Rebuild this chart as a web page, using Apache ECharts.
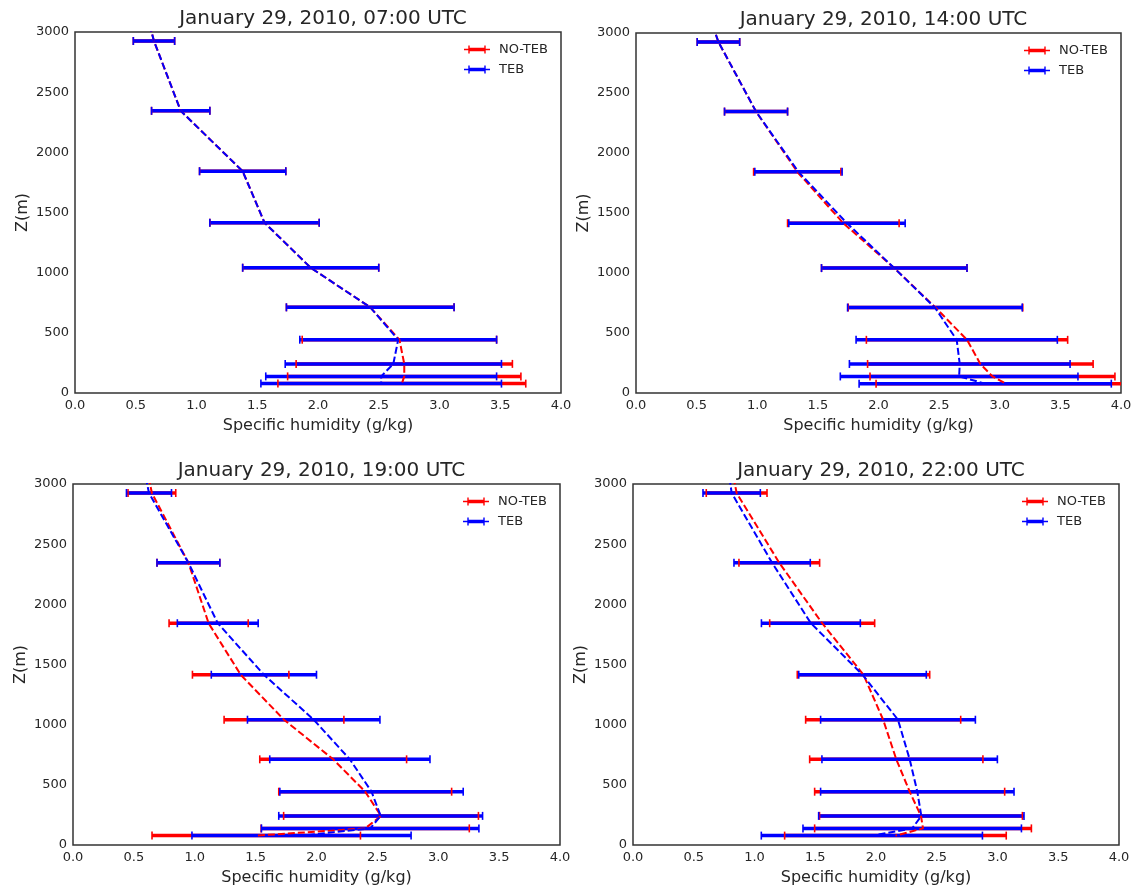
<!DOCTYPE html>
<html>
<head>
<meta charset="utf-8">
<script src="https://cdn.jsdelivr.net/npm/echarts@6/dist/echarts.min.js"></script>
<style>
  html, body { margin: 0; padding: 0; background: #fff; }
  #main { width: 1136px; height: 890px; }
</style>
</head>
<body>
<div id="main"></div>
<script>
// model levels (m); the last one sits above the plot top, only the line reaches toward it
var levels = [78, 138, 242, 443, 712, 1041, 1415, 1843, 2345, 2925, 3300];

var titles = [
  'January 29, 2010, 07:00 UTC',
  'January 29, 2010, 14:00 UTC',
  'January 29, 2010, 19:00 UTC',
  'January 29, 2010, 22:00 UTC'
];

// 07:00 UTC
var q07NoTeb  = [2.69, 2.71, 2.71, 2.67, 2.43, 1.94, 1.56, 1.38, 0.87, 0.65, 0.55];
var sd07NoTeb = [1.02, 0.96, 0.89, 0.80, 0.69, 0.56, 0.45, 0.355, 0.24, 0.17, 0.17];
var q07Teb    = [2.52, 2.52, 2.62, 2.66, 2.43, 1.94, 1.56, 1.38, 0.87, 0.65, 0.55];
var sd07Teb   = [0.99, 0.95, 0.89, 0.81, 0.69, 0.56, 0.45, 0.355, 0.24, 0.17, 0.17];

// 14:00 UTC
var q14NoTeb  = [3.05, 2.94, 2.84, 2.73, 2.47, 2.13, 1.71, 1.33, 0.99, 0.68, 0.55];
var sd14NoTeb = [1.07, 1.01, 0.93, 0.83, 0.72, 0.60, 0.46, 0.36, 0.26, 0.175, 0.175];
var q14Teb    = [2.88, 2.665, 2.67, 2.645, 2.465, 2.13, 1.74, 1.34, 0.99, 0.68, 0.55];
var sd14Teb   = [1.04, 0.98, 0.91, 0.83, 0.72, 0.60, 0.48, 0.36, 0.26, 0.175, 0.175];

// 19:00 UTC
var q19NoTeb  = [1.505, 2.40, 2.53, 2.40, 2.137, 1.733, 1.377, 1.114, 0.948, 0.648, 0.57];
var sd19NoTeb = [0.856, 0.855, 0.80, 0.71, 0.603, 0.492, 0.396, 0.325, 0.258, 0.196, 0.196];
var q19Teb    = [1.877, 2.441, 2.527, 2.452, 2.274, 1.977, 1.568, 1.189, 0.948, 0.624, 0.55];
var sd19Teb   = [0.90, 0.893, 0.837, 0.753, 0.658, 0.544, 0.432, 0.332, 0.258, 0.185, 0.185];

// 22:00 UTC
var q22NoTeb  = [2.16, 2.387, 2.37, 2.277, 2.167, 2.059, 1.897, 1.557, 1.204, 0.853, 0.78];
var sd22NoTeb = [0.912, 0.892, 0.835, 0.782, 0.713, 0.638, 0.545, 0.432, 0.332, 0.25, 0.25];
var q22Teb    = [1.966, 2.298, 2.373, 2.34, 2.277, 2.181, 1.889, 1.464, 1.145, 0.812, 0.76];
var sd22Teb   = [0.91, 0.899, 0.845, 0.796, 0.722, 0.637, 0.525, 0.407, 0.314, 0.236, 0.236];

var panels = [
  { noTeb: q07NoTeb, noTebSd: sd07NoTeb, teb: q07Teb, tebSd: sd07Teb },
  { noTeb: q14NoTeb, noTebSd: sd14NoTeb, teb: q14Teb, tebSd: sd14Teb },
  { noTeb: q19NoTeb, noTebSd: sd19NoTeb, teb: q19Teb, tebSd: sd19Teb },
  { noTeb: q22NoTeb, noTebSd: sd22NoTeb, teb: q22Teb, tebSd: sd22Teb }
];

var grids = [
  { left: 75,  top: 32,  width: 486, height: 361 },
  { left: 636, top: 33,  width: 485, height: 360 },
  { left: 73,  top: 484, width: 487, height: 361 },
  { left: 633, top: 484, width: 486, height: 361 }
];

var FONT = 'DejaVu Sans';
var TXT = '#262626';
var RED = '#ff0000', BLUE = '#0000ff';
var legendIcon = 'path://M0,3.3L26,3.3L26,4.7L0,4.7Z M5,2.2L21,2.2L21,5.8L5,5.8Z M4.3,0L5.7,0L5.7,8L4.3,8Z M20.3,0L21.7,0L21.7,8L20.3,8Z';

function renderBar(params, api) {
  var m = api.value(0), lev = api.value(1), s = api.value(2);
  var a = api.coord([m - s, lev]), b = api.coord([m + s, lev]);
  return {
    type: 'line',
    shape: { x1: a[0], y1: a[1], x2: b[0], y2: b[1] },
    style: { stroke: api.visual('color'), lineWidth: 3.5 }
  };
}

function renderCaps(params, api) {
  var m = api.value(0), lev = api.value(1), s = api.value(2);
  var a = api.coord([m - s, lev]), b = api.coord([m + s, lev]);
  var st = { stroke: api.visual('color'), lineWidth: 1.6 };
  return {
    type: 'group',
    children: [
      { type: 'line', shape: { x1: a[0], y1: a[1] - 4, x2: a[0], y2: a[1] + 4 }, style: st },
      { type: 'line', shape: { x1: b[0], y1: b[1] - 4, x2: b[0], y2: b[1] + 4 }, style: st }
    ]
  };
}

var option = {
  backgroundColor: '#fff',
  animation: false,
  textStyle: { fontFamily: FONT },
  title: [],
  legend: [],
  grid: [],
  xAxis: [],
  yAxis: [],
  series: []
};

panels.forEach(function (p, i) {
  var g = grids[i];
  option.grid.push({
    left: g.left, top: g.top, width: g.width, height: g.height,
    show: true, borderColor: '#333', borderWidth: 1.5, backgroundColor: 'transparent'
  });
  option.title.push({
    text: titles[i],
    left: g.left + g.width / 2,
    top: g.top - 28,
    textAlign: 'center',
    textStyle: { fontFamily: FONT, fontSize: 20, fontWeight: 'normal', color: TXT }
  });
  option.legend.push({
    data: ['NO-TEB', 'TEB'],
    orient: 'vertical',
    left: g.left + g.width - 102,
    top: g.top + 6,
    itemWidth: 26,
    itemHeight: 8,
    itemGap: 7,
    icon: legendIcon,
    itemStyle: { borderWidth: 0 },
    textStyle: { fontFamily: FONT, fontSize: 13, color: TXT, padding: [0, 0, 0, 4] }
  });
  option.xAxis.push({
    type: 'value', gridIndex: i, min: 0, max: 4, interval: 0.5,
    name: 'Specific humidity (g/kg)', nameLocation: 'middle', nameGap: 25,
    nameTextStyle: { fontFamily: FONT, fontSize: 16, color: TXT },
    axisLine: { show: false }, axisTick: { show: false }, splitLine: { show: false },
    axisLabel: { fontFamily: FONT, fontSize: 13, color: TXT, margin: 6,
      formatter: function (v) { return v.toFixed(1); } }
  });
  option.yAxis.push({
    type: 'value', gridIndex: i, min: 0, max: 3000, interval: 500,
    name: 'Z(m)', nameLocation: 'middle', nameGap: 44,
    nameTextStyle: { fontFamily: FONT, fontSize: 16, color: TXT },
    axisLine: { show: false }, axisTick: { show: false }, splitLine: { show: false },
    axisLabel: { fontFamily: FONT, fontSize: 13, color: TXT, margin: 6,
      formatter: function (v) { return String(v); } }
  });

  function rows(mean, sd) {
    return levels.map(function (lev, k) { return [mean[k], lev, sd[k]]; });
  }
  // profile line runs from the top down, so identical upper parts dash in step
  function pts(mean) {
    return levels.map(function (lev, k) { return [mean[k], lev]; }).reverse();
  }

  var sets = [
    { name: 'NO-TEB', color: RED, mean: p.noTeb, sd: p.noTebSd },
    { name: 'TEB', color: BLUE, mean: p.teb, sd: p.tebSd }
  ];
  sets.forEach(function (s, j) {
    option.series.push({
      type: 'custom', name: s.name, xAxisIndex: i, yAxisIndex: i,
      renderItem: renderBar, clip: true, z: 2 + j,
      itemStyle: { color: s.color },
      encode: { x: 0, y: 1 },
      data: rows(s.mean, s.sd)
    });
  });
  sets.forEach(function (s, j) {
    option.series.push({
      type: 'custom', name: s.name, xAxisIndex: i, yAxisIndex: i,
      renderItem: renderCaps, clip: true, z: 4 + j,
      itemStyle: { color: s.color },
      encode: { x: 0, y: 1 },
      data: rows(s.mean, s.sd)
    });
  });
  sets.forEach(function (s, j) {
    option.series.push({
      type: 'line', name: s.name, xAxisIndex: i, yAxisIndex: i,
      z: 6 + j, clip: true, symbol: 'none', showSymbol: false,
      color: s.color,
      lineStyle: { color: s.color, width: 2, type: [7, 3] },
      data: pts(s.mean)
    });
  });
});

var chart = echarts.init(document.getElementById('main'));
chart.setOption(option);
</script>
</body>
</html>
